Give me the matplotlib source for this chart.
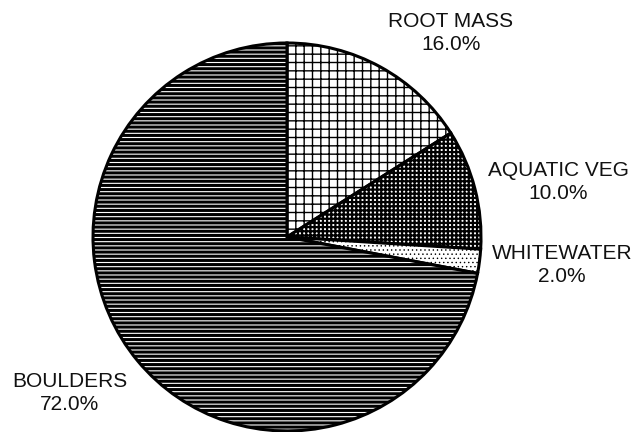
import matplotlib
matplotlib.use("Agg")
import matplotlib.pyplot as plt

categories = ["ROOT MASS", "AQUATIC VEG", "WHITEWATER", "BOULDERS"]
values = [16.0, 10.0, 2.0, 72.0]
hatches = ["++", "++++", "....", "----"]
hatch_lw = [1.0, 1.6, 0.5, 2.2]
label_xy = [(0.845, 1.052), (1.397, 0.284), (1.418, -0.144), (-1.119, -0.804)]

plt.rcParams["font.family"] = ["Liberation Sans", "DejaVu Sans"]
plt.rcParams["hatch.linewidth"] = 1.0

fig = plt.figure(figsize=(6.43, 4.32), dpi=100)
ax = fig.add_axes([0, 0, 1, 1])
wedges, _ = ax.pie(values, startangle=90, counterclock=False, radius=1.0,
                   colors=["white"] * len(values),
                   wedgeprops=dict(edgecolor="black", linewidth=2.2))
for w, h, lw in zip(wedges, hatches, hatch_lw):
    w.set_hatch(h)
    if hasattr(w, "set_hatch_linewidth"):
        w.set_hatch_linewidth(lw)

for cat, v, (x, y) in zip(categories, values, label_xy):
    ax.text(x, y, f"{cat}\n{v:.1f}%", ha="center", va="center",
            fontsize=15, linespacing=1.3, color="#111111")

ax.set_xlim(-287 / 194, (643 - 287) / 194)
ax.set_ylim(-(432 - 237) / 194, 237 / 194)
ax.set_aspect("equal")
ax.axis("off")
fig.savefig("out.png", dpi=100)
